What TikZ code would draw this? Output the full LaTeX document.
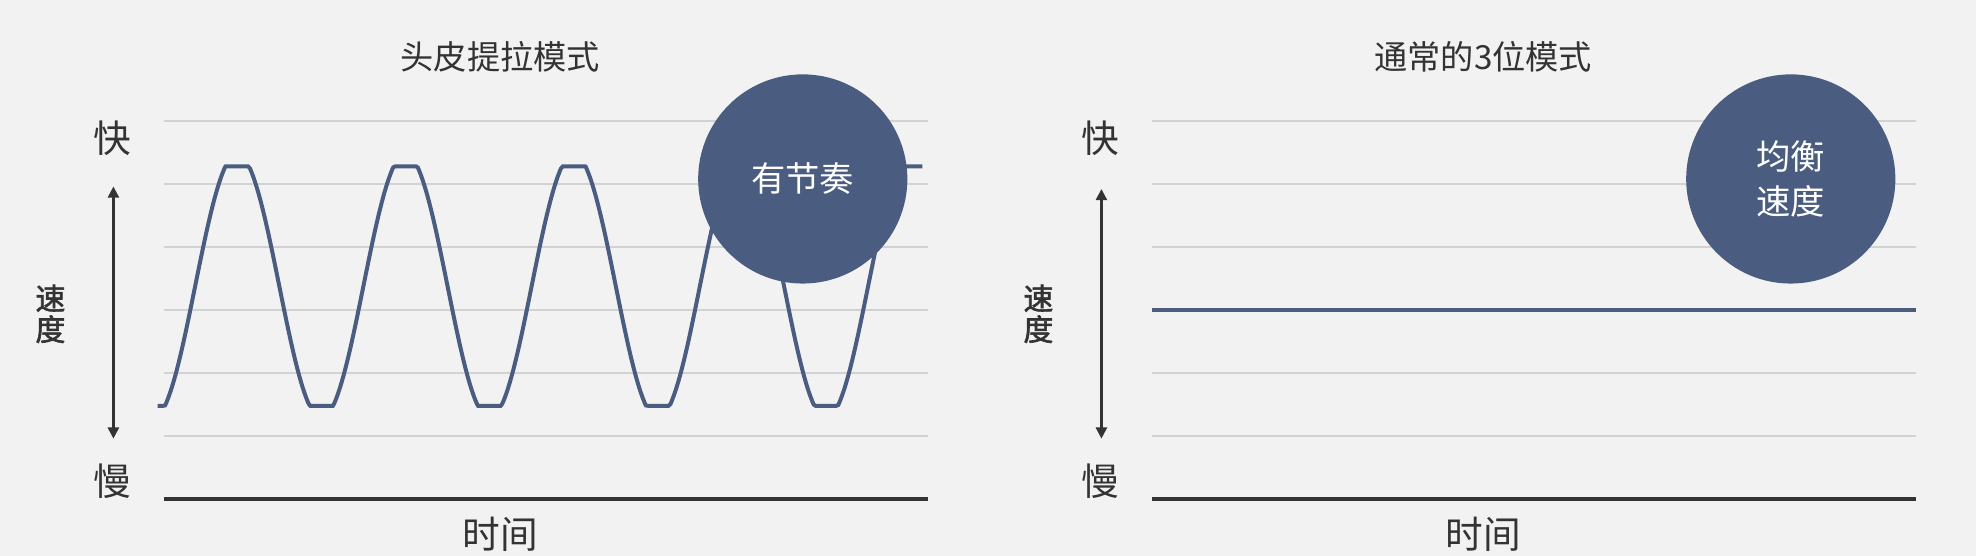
\documentclass[tikz,border=0pt]{standalone}
\usepackage{fontspec}
\setmainfont{Noto Sans CJK SC}
\newfontfamily\cjkb[FakeBold=2]{Noto Sans CJK SC}
\usetikzlibrary{arrows.meta}
\definecolor{bg}{HTML}{F2F2F2}
\definecolor{grid}{HTML}{D2D2D2}
\definecolor{wave}{HTML}{4A5D80}
\definecolor{axis}{HTML}{333333}
\tikzset{
  gridline/.style={grid, line width=1.2pt},
  baseaxis/.style={axis, line width=2.2pt},
  curve/.style={wave, line width=1.8pt},
  bubble/.style={circle, fill=wave, minimum size=166*0.02cm, inner sep=0pt, text=white, font=\fontsize{15.5}{19}\selectfont, align=center},
  lbl/.style={text=axis, font=\fontsize{17}{20}\selectfont},
  ttl/.style={text=axis, font=\fontsize{15}{18}\selectfont},
  vlab/.style={text=axis, font=\cjkb\fontsize{13.5}{16}\selectfont, align=center},
  speedarrow/.style={axis, line width=1pt, {Triangle[length=5pt,width=5pt]}-{Triangle[length=5pt,width=5pt]}}
}
\begin{document}
\begin{tikzpicture}[x=0.02cm, y=-0.02cm]
\fill[bg] (0,0) rectangle (1568,441);
\useasboundingbox (0,0) rectangle (1568,441);
% left chart
\foreach \y in {96,146,196,246,296,346} \draw[gridline] (130,\y) -- (736,\y);
\draw[baseaxis] (130,396) -- (736,396);
\draw[curve] plot[domain=125:722, samples=400, smooth] (\x, {max(132,min(322,227+105*cos(2.6966*(\x-255))))}) -- (732,132);
\node[bubble] (c1) at (637,142) {有节奏};
\node[ttl] (t1) at (397,45) {头皮提拉模式};
\node[lbl] (f1) at (89,110) {快};
\node[lbl] (s1) at (89,382) {慢};
\node[lbl] (x1) at (397,424) {时间};
\node[vlab] (v1) at (40,249) {速\\[-2pt]度};
\coordinate (a1t) at (90,148);
\coordinate (a1b) at (90,348);
\draw[speedarrow] (a1t) -- (a1b);
% right chart
\foreach \y in {96,146,196,296,346} \draw[gridline] (914,\y) -- (1520,\y);
\draw[baseaxis] (914,396) -- (1520,396);
\draw[curve] (914,246) -- (1520,246);
\node[bubble, font=\fontsize{15.5}{20}\selectfont] (c2) at (1421,142) {均衡\\速度};
\node[ttl] (t2) at (1177,45) {通常的3位模式};
\node[lbl] (f2) at (873,110) {快};
\node[lbl] (s2) at (873,382) {慢};
\node[lbl] (x2) at (1177,424) {时间};
\node[vlab] (v2) at (824,249) {速\\[-2pt]度};
\coordinate (a2t) at (874,150);
\coordinate (a2b) at (874,348);
\draw[speedarrow] (a2t) -- (a2b);
\end{tikzpicture}
\end{document}
